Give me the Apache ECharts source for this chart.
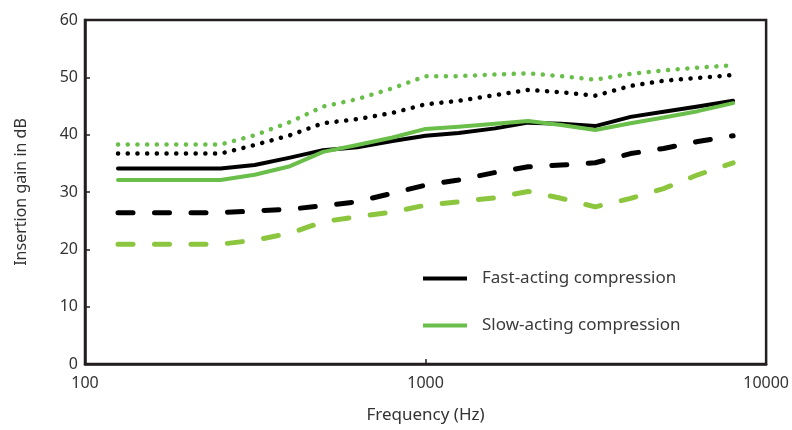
<!DOCTYPE html>
<html>
<head>
<meta charset="utf-8">
<script src="https://cdn.jsdelivr.net/npm/echarts@6/dist/echarts.min.js"></script>
<style>
  html, body { margin: 0; padding: 0; background: #fff; }
  #chart { width: 792px; height: 430px; }
</style>
</head>
<body>
<div id="chart"></div>
<script>
// third-octave frequencies (Hz)
var freqs = [125, 160, 200, 250, 315, 400, 500, 630, 800, 1000, 1250, 1600, 2000, 2500, 3150, 4000, 5000, 6300, 8000];

// insertion gain in dB
var fastDotted = [36.7, 36.7, 36.7, 36.7, 38.2, 39.9, 42.0, 42.7, 43.8, 45.3, 45.9, 46.9, 47.8, 47.4, 46.8, 48.5, 49.4, 49.9, 50.4];
var slowDotted = [38.3, 38.3, 38.3, 38.3, 39.9, 42.2, 44.9, 46.2, 48.1, 50.2, 50.2, 50.5, 50.7, 50.2, 49.6, 50.6, 51.2, 51.7, 52.1];
var fastSolid  = [34.1, 34.1, 34.1, 34.1, 34.7, 36.0, 37.3, 37.8, 38.9, 39.8, 40.3, 41.1, 42.1, 41.9, 41.5, 43.1, 44.0, 44.9, 45.9];
var slowSolid  = [32.1, 32.1, 32.1, 32.1, 33.0, 34.5, 37.0, 38.2, 39.5, 41.0, 41.4, 41.9, 42.4, 41.7, 40.8, 42.0, 43.0, 44.1, 45.5];
var fastDashed = [26.4, 26.4, 26.4, 26.4, 26.7, 27.0, 27.6, 28.3, 29.8, 31.2, 32.1, 33.4, 34.4, 34.7, 35.1, 36.7, 37.6, 38.8, 39.8];
var slowDashed = [20.9, 20.9, 20.9, 20.9, 21.6, 22.8, 24.8, 25.7, 26.5, 27.7, 28.3, 29.0, 30.1, 28.9, 27.4, 28.9, 30.6, 33.0, 35.1];

var xTicks = [100, 1000, 10000];
var yTicks = [0, 10, 20, 30, 40, 50, 60];

var legendNames = ['Fast-acting compression', 'Slow-acting compression'];

var BLACK = '#000000';
var GREEN = '#6abf4b';
var GREEN_DASH = '#8cc63f';
var AXIS = '#231f20';
var TEXT = '#333333';
var FONT = 'Noto Sans';

function pairs(vals) {
    return freqs.map(function (f, i) { return [f, vals[i]]; });
}

function line(name, vals, color, width, type) {
    return {
        name: name,
        type: 'line',
        data: pairs(vals),
        symbol: 'none',
        silent: true,
        animation: false,
        lineStyle: { color: color, width: width, type: type, cap: 'round', join: 'round' }
    };
}

var myChart = echarts.init(document.getElementById('chart'), null, { renderer: 'canvas' });

var options = {
    animation: false,
    grid: {
        left: 85, right: 21, top: 20, bottom: 66,
        show: true, borderColor: AXIS, borderWidth: 2.5
    },
    legend: {
        data: legendNames,
        orient: 'vertical',
        left: 418, top: 265,
        icon: 'rect',
        itemWidth: 44, itemHeight: 4,
        itemGap: 30,
        textStyle: { fontFamily: FONT, fontSize: 17, color: '#3a3a3a', padding: [0, 0, 0, 10] }
    },
    xAxis: {
        type: 'log', logBase: 10, min: 100, max: 10000,
        name: 'Frequency (Hz)', nameLocation: 'middle', nameGap: 43,
        nameTextStyle: { fontFamily: FONT, fontSize: 17, color: TEXT },
        axisLine: { lineStyle: { color: AXIS, width: 2.5 } },
        axisTick: { inside: true, length: 5, lineStyle: { color: AXIS, width: 1.5 } },
        minorTick: { show: false },
        splitLine: { show: false },
        axisLabel: {
            fontFamily: FONT, fontSize: 16, color: TEXT, margin: 11,
            formatter: function (v) { return xTicks.indexOf(v) >= 0 ? String(v) : ''; }
        }
    },
    yAxis: {
        type: 'value', min: 0, max: 60, interval: 10,
        name: 'Insertion gain in dB', nameLocation: 'middle', nameGap: 56,
        nameTextStyle: { fontFamily: FONT, fontSize: 16, color: TEXT },
        axisLine: { show: true, lineStyle: { color: AXIS, width: 2.5 } },
        axisTick: { show: true, inside: true, length: 5, lineStyle: { color: AXIS, width: 1.5 } },
        splitLine: { show: false },
        axisLabel: {
            fontFamily: FONT, fontSize: 16, color: TEXT, margin: 7,
            formatter: function (v) { return yTicks.indexOf(v) >= 0 ? String(v) : ''; }
        }
    },
    series: [
        line('fast dotted', fastDotted, BLACK, 4.5, [0.1, 9.6]),
        line('slow dotted', slowDotted, GREEN, 4.5, [0.1, 9.6]),
        line('fast dashed', fastDashed, BLACK, 5, [15, 21.5]),
        line('slow dashed', slowDashed, GREEN_DASH, 5, [15, 21.5]),
        line('fast solid', fastSolid, BLACK, 4, 'solid'),
        line('slow solid', slowSolid, GREEN, 4, 'solid'),
        // entries used only for the legend
        { name: legendNames[0], type: 'line', data: [], color: BLACK, itemStyle: { color: BLACK } },
        { name: legendNames[1], type: 'line', data: [], color: GREEN, itemStyle: { color: GREEN } }
    ]
};
myChart.setOption(options);
</script>
</body>
</html>
